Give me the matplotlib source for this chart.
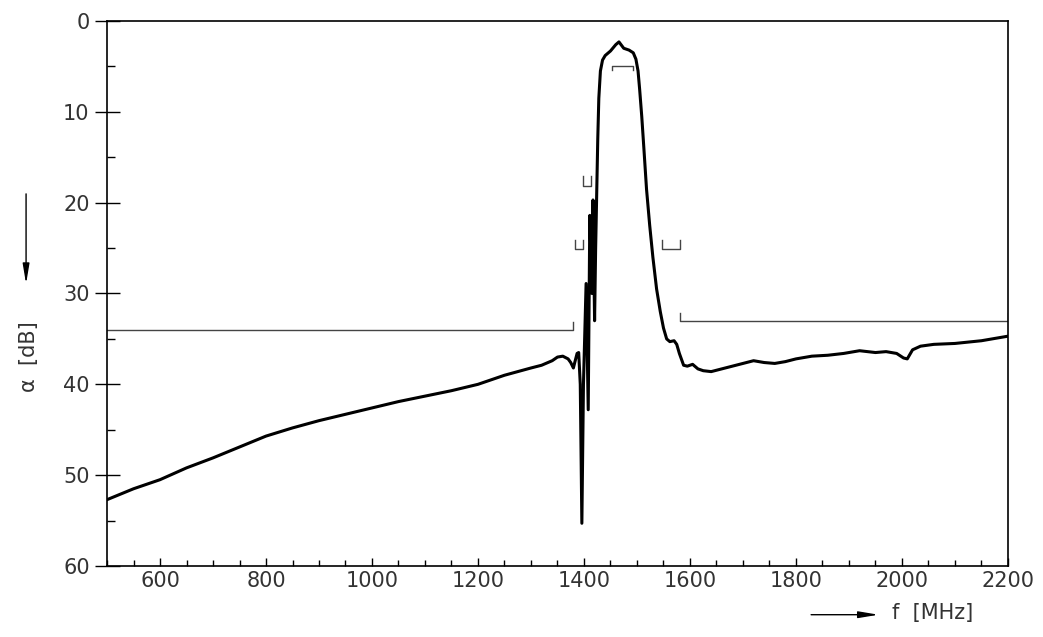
import matplotlib
matplotlib.use("Agg")
import matplotlib.pyplot as plt
import numpy as np
from matplotlib.ticker import MultipleLocator

freq = [500, 550, 600, 650, 700, 750, 800, 850, 900, 950, 1000, 1050, 1100, 1150, 1200, 1250, 1300,
        1320, 1340, 1350, 1360, 1370, 1375, 1380, 1383, 1387, 1390, 1393, 1396, 1399, 1404, 1408, 1411,
        1415, 1417, 1420, 1422, 1424, 1426, 1428, 1431, 1435, 1440, 1450, 1460, 1466, 1475, 1485, 1493,
        1498, 1502, 1505, 1509, 1513, 1518, 1524, 1530, 1537, 1544, 1550, 1556, 1562, 1570, 1575, 1580,
        1588, 1595, 1605, 1615, 1625, 1640, 1660, 1680, 1700, 1720, 1740, 1760, 1780, 1800, 1830, 1860,
        1890, 1920, 1950, 1970, 1990, 2003, 2010, 2020, 2035, 2060, 2100, 2150, 2200]
atten = [52.7, 51.5, 50.5, 49.2, 48.1, 46.9, 45.7, 44.8, 44.0, 43.3, 42.6, 41.9, 41.3, 40.7, 40.0, 39.0, 38.2,
         37.9, 37.4, 37.0, 36.9, 37.2, 37.6, 38.2, 37.5, 36.6, 36.5, 40.0, 55.3, 40.0, 28.9, 42.8, 21.4,
         30.0, 19.7, 33.0, 25.0, 19.0, 13.0, 8.5, 5.5, 4.3, 3.8, 3.3, 2.6, 2.3, 3.0, 3.2, 3.5,
         4.2, 5.5, 7.5, 10.5, 14.0, 18.5, 22.5, 26.0, 29.5, 32.0, 33.8, 35.0, 35.3, 35.2, 35.6, 36.6,
         37.9, 38.0, 37.8, 38.3, 38.5, 38.6, 38.3, 38.0, 37.7, 37.4, 37.6, 37.7, 37.5, 37.2, 36.9, 36.8,
         36.6, 36.3, 36.5, 36.4, 36.6, 37.1, 37.2, 36.2, 35.8, 35.6, 35.5, 35.2, 34.7]

# tolerance mask segments
mask_left_x = [500, 1380, 1380]; mask_left_y = [34.0, 34.0, 33.1]
mask_right_x = [1581, 1581, 2200, 2200]; mask_right_y = [32.1, 33.0, 33.0, 32.1]
br1_x = [1383, 1383, 1398, 1398]; br1_y = [24.1, 25.1, 25.1, 24.1]
br2_x = [1398, 1398, 1413, 1413]; br2_y = [17.1, 18.2, 18.2, 17.1]
br3_x = [1547, 1547, 1581, 1581]; br3_y = [24.1, 25.1, 25.1, 24.1]
br4_x = [1453, 1453, 1492, 1492]; br4_y = [5.4, 5.0, 5.0, 5.4]

plt.rcParams['font.family'] = ['DejaVu Sans']
fig = plt.figure(figsize=(10.43, 6.37), dpi=100)
ax = fig.add_axes([0.1026, 0.1115, 0.8638, 0.8555])
ax.plot(freq, atten, color='black', lw=2.2, solid_joinstyle='round')
for xs, ys in [(mask_left_x, mask_left_y), (mask_right_x, mask_right_y), (br1_x, br1_y),
               (br2_x, br2_y), (br3_x, br3_y), (br4_x, br4_y)]:
    ax.plot(xs, ys, color='#444444', lw=1.0)
ax.set_xlim(500, 2200)
ax.set_ylim(60, 0)
ax.xaxis.set_major_locator(MultipleLocator(200))
ax.xaxis.set_minor_locator(MultipleLocator(50))
ax.yaxis.set_major_locator(MultipleLocator(10))
ax.yaxis.set_minor_locator(MultipleLocator(5))
ax.set_xticks([600, 800, 1000, 1200, 1400, 1600, 1800, 2000, 2200])
ax.tick_params(axis='x', which='major', direction='in', length=6, width=1, labelsize=15, labelcolor='#333333')
ax.tick_params(axis='x', which='minor', direction='in', length=4, width=1)
ax.tick_params(axis='y', which='major', direction='inout', length=18, width=1, labelsize=15, labelcolor='#333333')
ax.tick_params(axis='y', which='minor', direction='in', length=6, width=1)
for s in ax.spines.values():
    s.set_linewidth(1.2)

fig.text(0.028, 0.44, 'α  [dB]', rotation=90, fontsize=15, color='#333333', ha='center', va='center')
ax.annotate('', xy=(0.025, 0.55), xycoords='figure fraction', xytext=(0.025, 0.70),
            arrowprops=dict(arrowstyle='-|>,head_length=1.2,head_width=0.2', color='black', lw=1))
ax.annotate('', xy=(0.845, 0.035), xycoords='figure fraction', xytext=(0.775, 0.035),
            arrowprops=dict(arrowstyle='-|>,head_length=1.2,head_width=0.2', color='black', lw=1))
fig.text(0.855, 0.037, 'f  [MHz]', fontsize=15, color='#333333', ha='left', va='center')

fig.savefig('out.png', dpi=100)
